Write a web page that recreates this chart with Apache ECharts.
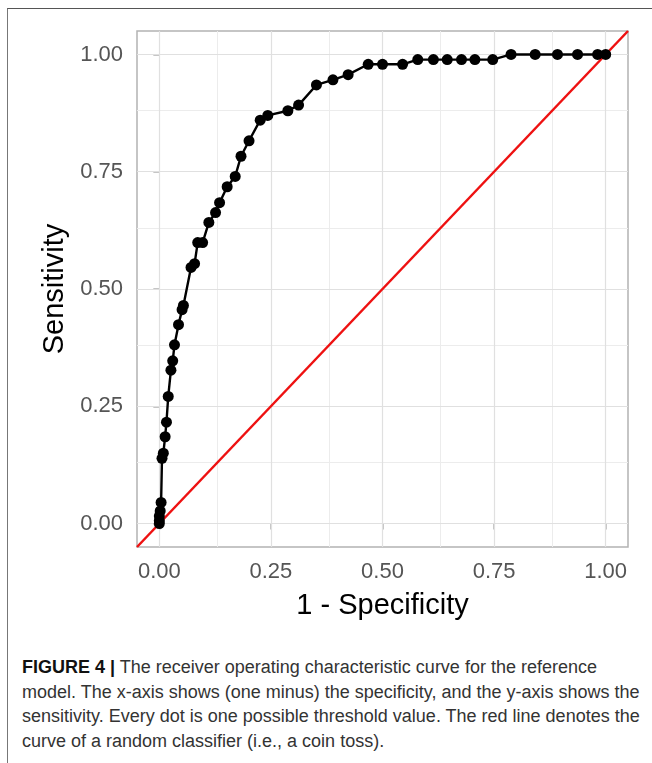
<!DOCTYPE html>
<html>
<head>
<meta charset="utf-8">
<script src="https://cdn.jsdelivr.net/npm/echarts@6/dist/echarts.min.js"></script>
<style>
  html, body { margin: 0; padding: 0; background: #fff; }
  #frame { position: absolute; left: 7px; top: 8px; width: 645px; height: 755px;
           border-top: 1.5px solid #555; border-left: 1.5px solid #777; }
  #chart { position: absolute; left: 0; top: 0; width: 652px; height: 640px; }
  #caption { position: absolute; left: 22px; top: 655px; width: 625px;
             font-family: "Liberation Sans Narrow", "Liberation Sans", Arial, sans-serif;
             font-size: 18px; line-height: 24.5px; color: #333; }
  #caption b { color: #111; }
</style>
</head>
<body>
<div id="frame"></div>
<div id="chart"></div>
<div id="caption"><b>FIGURE 4 |</b> The receiver operating characteristic curve for the reference model. The x-axis shows (one minus) the specificity, and the y-axis shows the sensitivity. Every dot is one possible threshold value. The red line denotes the curve of a random classifier (i.e., a coin toss).</div>
<script>
// ROC 曲线的点 (1 - specificity, sensitivity)
let fpr=[0,0,0,0.002,0.004,0.006,0.009,0.013,0.016,0.020,0.026,0.030,0.034,0.043,0.051,0.054,
    0.071,0.079,0.086,0.097,0.111,0.126,0.135,0.152,0.170,0.183,0.201,0.226,0.243,0.288,0.312,
    0.352,0.389,0.423,0.468,0.500,0.545,0.579,0.614,0.645,0.677,0.707,0.747,0.788,0.842,0.892,
    0.937,0.982,1.0];
let tpr=[0,0.006,0.016,0.027,0.045,0.139,0.150,0.185,0.216,0.271,0.327,0.347,0.381,0.424,0.456,0.465,
    0.546,0.554,0.599,0.599,0.642,0.663,0.684,0.718,0.740,0.783,0.816,0.860,0.870,0.880,0.892,
    0.935,0.946,0.957,0.979,0.979,0.979,0.989,0.989,0.989,0.989,0.989,0.989,1.0,1.0,1.0,
    1.0,1.0,1.0];
// 随机分类器 y = x
let diag=[-0.05,1.05];
let majorTicks=[0,0.25,0.5,0.75,1];
let minorTicks=[0.125,0.375,0.625,0.875];
let axisMin=-0.05, axisMax=1.05;

let roc=[];
for(let i=0;i<fpr.length;i++){
    roc.push([fpr[i],tpr[i]]);
}
let gridLines=[];
for(let v of minorTicks){
    gridLines.push({xAxis:v,lineStyle:{color:"#ececec",width:1,type:"solid"}});
    gridLines.push({yAxis:v,lineStyle:{color:"#ececec",width:1,type:"solid"}});
}
for(let v of majorTicks){
    gridLines.push({xAxis:v,lineStyle:{color:"#e0e0e0",width:1.2,type:"solid"}});
    gridLines.push({yAxis:v,lineStyle:{color:"#e0e0e0",width:1.2,type:"solid"}});
}

function axis(name,gap){
    return {
        type:"value",
        min:axisMin,
        max:axisMax,
        name:name,
        nameLocation:"middle",
        nameGap:gap,
        nameTextStyle:{color:"#000",fontSize:29,fontFamily:"Liberation Sans, Arial"},
        axisLine:{show:false},
        axisTick:{show:true,length:6,customValues:majorTicks,lineStyle:{color:"#b3b3b3",width:1.5}},
        axisLabel:{customValues:majorTicks,color:"#555",fontSize:22,fontFamily:"Liberation Sans, Arial",
            margin:14,formatter:function(v){return v.toFixed(2);}},
        splitLine:{show:false}
    };
}

var myChart=echarts.init(document.getElementById("chart"));
var option={
    animation:false,
    grid:{left:137,top:31,width:491,height:516,show:true,borderColor:"#b3b3b3",borderWidth:1.5,
        backgroundColor:"#fff"},
    xAxis:axis("1 - Specificity",44),
    yAxis:axis("Sensitivity",66),
    series:[{
        type:"line",
        data:[],
        silent:true,
        z:1,
        markLine:{silent:true,z:1,symbol:"none",label:{show:false},animation:false,
            emphasis:{disabled:true},data:gridLines}
    },{
        type:"line",
        data:[[diag[0],diag[0]],[diag[1],diag[1]]],
        showSymbol:false,
        silent:true,
        z:6,
        lineStyle:{color:"#ee1111",width:2.5}
    },{
        type:"line",
        data:roc,
        symbol:"circle",
        symbolSize:11,
        z:7,
        itemStyle:{color:"#000"},
        lineStyle:{color:"#000",width:2.4}
    }]
};
myChart.setOption(option);
</script>
</body>
</html>
